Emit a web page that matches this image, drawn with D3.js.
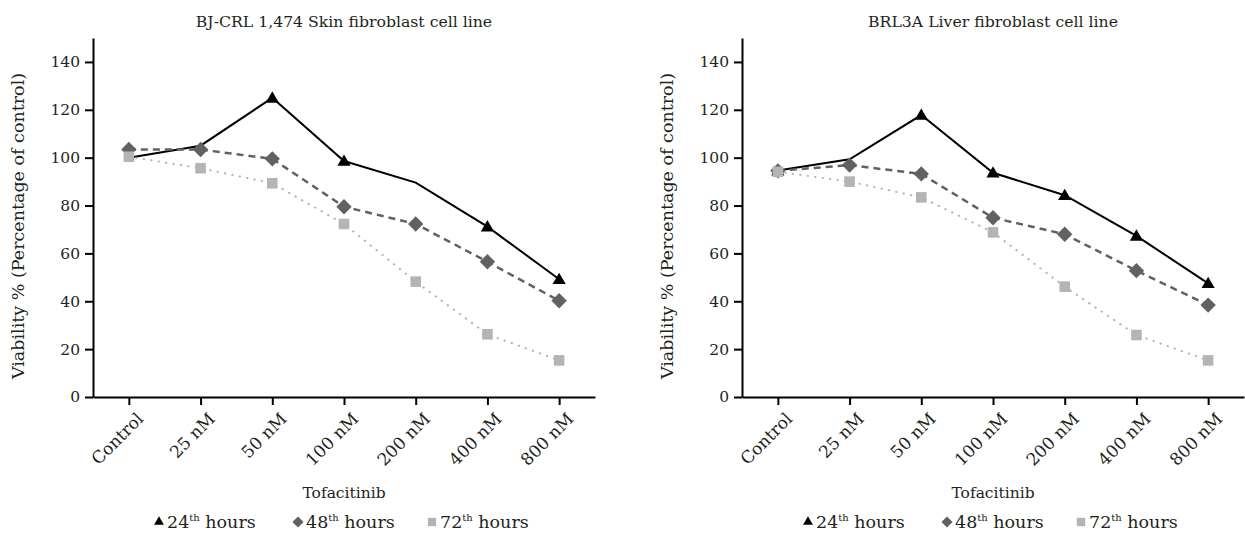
<!DOCTYPE html>
<html>
<head>
<meta charset="utf-8">
<script src="https://cdn.jsdelivr.net/npm/d3@7"></script>
<style>
  body { margin: 0; background: #fff; }
  text { font-family: "DejaVu Serif", serif; fill: #231f20; }
</style>
</head>
<body>
<svg id="chart" width="1245" height="541"></svg>
<script>
// data
const categories = ["Control", "25 nM", "50 nM", "100 nM", "200 nM", "400 nM", "800 nM"];
const yTicks = [0, 20, 40, 60, 80, 100, 120, 140];
const seriesNames = ["24", "48", "72"];

const bjTitle = "BJ-CRL 1,474 Skin fibroblast cell line";
const bj24 = [100, 105, 125, 98.6, 89.6, 71.2, 49.2];
const bj48 = [103.4, 103.4, 99.5, 79.5, 72.3, 56.5, 40.2];
const bj72 = [100.4, 95.6, 89.3, 72.3, 48.2, 26.2, 15.3];
const bjNo24Marker = ["Control", "25 nM", "200 nM"];

const brlTitle = "BRL3A Liver fibroblast cell line";
const brl24 = [94.6, 99.3, 117.8, 93.7, 84.3, 67.3, 47.5];
const brl48 = [94.5, 96.9, 93.2, 74.9, 68, 52.8, 38.4];
const brl72 = [94.1, 90, 83.4, 68.8, 46.1, 25.9, 15.3];
const brlNo24Marker = ["25 nM"];

const svg = d3.select("#chart");

const styles = [
  { color: "#000", stroke: 2, dash: null, symbol: d3.symbolTriangle, size: 75, rot: 0, leg: 42 },
  { color: "#616161", stroke: 2.5, dash: "7,5", symbol: d3.symbolSquare, size: 118, rot: 45, leg: 62 },
  { color: "#b2b4b7", stroke: 2, dash: "0.5,7", symbol: d3.symbolSquare, size: 112, rot: 0, leg: 70 }
];

function drawPanel(dx, title, s24, s48, s72, skip24) {
  const g = svg.append("g").attr("transform", `translate(${dx},0)`);

  const y = d3.scaleLinear().domain([0, 150]).range([397, 38]);
  const x = d3.scalePoint().domain(categories).range([93, 595]).padding(0.5);

  // y axis
  const ya = g.append("g")
    .attr("transform", "translate(93,0)")
    .call(d3.axisLeft(y).tickValues(yTicks).tickSize(8).tickPadding(5).tickSizeOuter(0));
  ya.select(".domain").attr("stroke-width", 2);
  ya.selectAll(".tick line").attr("stroke-width", 2);
  ya.selectAll(".tick text").attr("font-size", 15.5);

  // x axis
  const xa = g.append("g")
    .attr("transform", "translate(0,397)")
    .call(d3.axisBottom(x).tickSize(8).tickSizeOuter(0));
  xa.select(".domain").attr("stroke-width", 2);
  xa.selectAll(".tick line").attr("stroke-width", 2);
  xa.selectAll(".tick text")
    .attr("font-size", 17)
    .attr("text-anchor", "end")
    .attr("x", 0).attr("y", 0).attr("dy", null)
    .attr("transform", "translate(15,23) rotate(-45)");

  g.append("text")
    .attr("x", 344).attr("y", 27)
    .attr("text-anchor", "middle")
    .attr("font-size", 15.7)
    .text(title);

  g.append("text")
    .attr("x", 344).attr("y", 498)
    .attr("text-anchor", "middle")
    .attr("font-size", 15.5)
    .text("Tofacitinib");

  g.append("text")
    .attr("transform", "translate(24,226) rotate(-90)")
    .attr("text-anchor", "middle")
    .attr("font-size", 17.5)
    .text("Viability % (Percentage of control)");

  const line = d3.line().x((d, i) => x(categories[i])).y(d => y(d));
  const all = [s24, s48, s72];

  all.forEach((vals, k) => {
    const st = styles[k];
    g.append("path")
      .datum(vals)
      .attr("d", line)
      .attr("fill", "none")
      .attr("stroke", st.color)
      .attr("stroke-width", st.stroke)
      .attr("stroke-dasharray", st.dash)
      .attr("stroke-linecap", k === 2 ? "round" : "butt");

    const pts = vals.map((v, i) => ({ c: categories[i], v }))
      .filter(d => !(k === 0 && skip24.includes(d.c)));
    g.selectAll(null)
      .data(pts)
      .join("path")
      .attr("d", d3.symbol().type(st.symbol).size(st.size))
      .attr("transform", d => `translate(${x(d.c)},${y(d.v) + (k === 0 ? 1 : 0)}) rotate(${st.rot})`)
      .attr("fill", st.color);
  });

  // legend
  const legX = [159, 298, 432];
  seriesNames.forEach((n, k) => {
    const st = styles[k];
    const lg = g.append("g").attr("transform", `translate(${legX[k]},522)`);
    lg.append("path")
      .attr("d", d3.symbol().type(st.symbol).size(st.leg))
      .attr("transform", `rotate(${st.rot})`)
      .attr("fill", st.color);
    const t = lg.append("text").attr("x", 8).attr("y", 6).attr("font-size", 17.5);
    t.append("tspan").text(n);
    t.append("tspan").attr("font-size", 10).attr("dy", -7).text("th");
    t.append("tspan").attr("dy", 7).text(" hours");
  });
}

drawPanel(0, bjTitle, bj24, bj48, bj72, bjNo24Marker);
drawPanel(649, brlTitle, brl24, brl48, brl72, brlNo24Marker);
</script>
</body>
</html>
